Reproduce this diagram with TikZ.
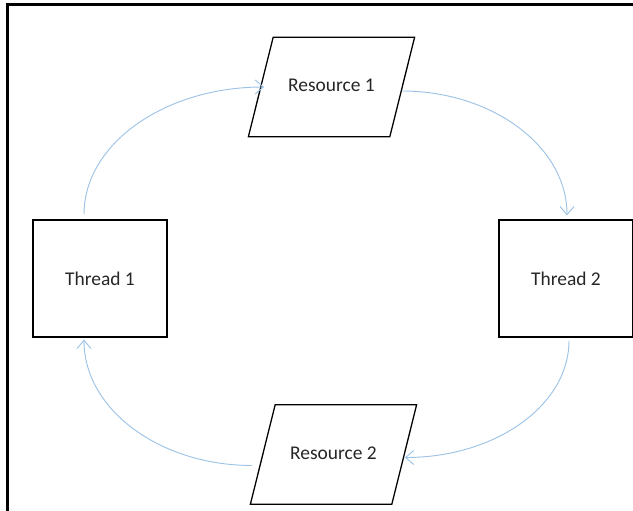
\documentclass[tikz,border=0pt]{standalone}
\usepackage{fontspec}
\setmainfont{Carlito}
\usepackage{tikz}
\usetikzlibrary{positioning}
\usetikzlibrary{shapes.geometric}
\usetikzlibrary{arrows.meta}
\usetikzlibrary{calc}
\definecolor{linkblue}{RGB}{157,195,230}

\begin{document}
\begin{tikzpicture}[x=0.03cm, y=-0.03cm,
        thread/.style={draw, line width=1.1pt, minimum width=4.02cm, minimum height=3.51cm, text=black!85, font=\fontsize{16.6}{19}\selectfont},
        resource/.style={draw, trapezium, trapezium left angle=76, trapezium right angle=104, line width=1.1pt, inner xsep=0.45cm, text height=12pt, text depth=4pt, inner ysep=34.5pt, text=black!85, font=\fontsize{16.6}{19}\selectfont},
        link/.style={draw=linkblue, line width=0.8pt, -{Straight Barb[length=7pt, width=12pt]}}]
        \def\midy{278.5}
        \useasboundingbox (0,0) rectangle (633,511);
        \draw [line width=2.5pt] (7.5,511) -- (7.5,4.5) -- (633,4.5);

        \node [thread] (t1) at (100,\midy) {Thread 1};
        \node [thread] (t2) at (566,\midy) {Thread 2};
        \node [resource] (r1) at (331.5,87) {Resource 1};
        \node [resource] (r2) at (333.5,454.5) {Resource 2};

        % cycle of requests
        \draw [link] ($(t1.north)+(-16,-5)$) .. controls +(0,-70) and +(-100,0) .. ($(r1.west)+(4,0)$);
        \draw [link] ($(r1.east)+(-1,4)$) .. controls +(90,0) and +(0,-69) .. ($(t2.north)+(1,-4)$);
        \draw [link] ($(t2.south)+(3,3)$) .. controls +(0,65) and +(90,0) .. ($(r2.east)+(0,3)$);
        \draw [link] ($(r2.west)+(-10,11)$) .. controls +(-92,0) and +(0,70) .. ($(t1.south)+(-16,2)$);
    \end{tikzpicture}
\end{document}
